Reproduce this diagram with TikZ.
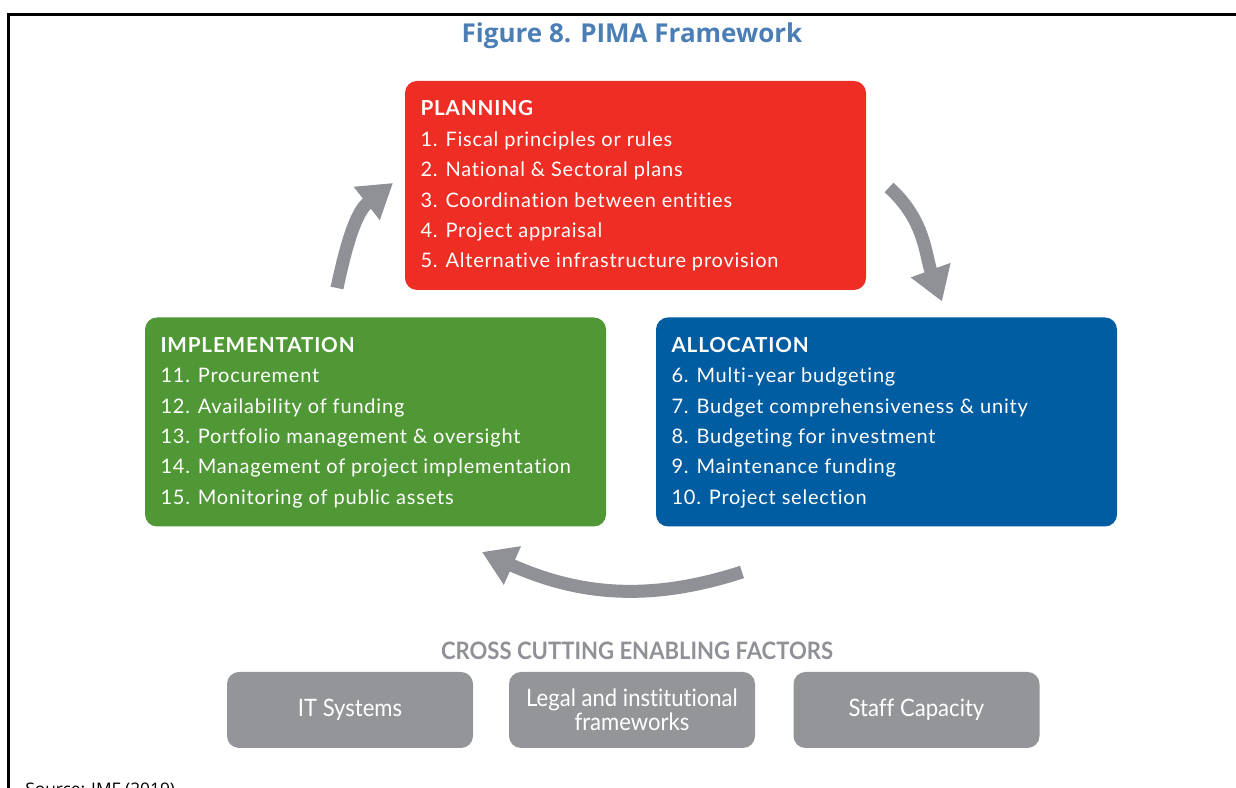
\documentclass[tikz,border=0pt]{standalone}
\usepackage{fontspec}
\setmainfont[LetterSpace=4, Ligatures={NoCommon}]{Lato}
\newfontfamily\headfont{Open Sans}
\newfontfamily\narrowfont[FakeStretch=0.92, Ligatures={NoCommon}]{Lato}
\usetikzlibrary{positioning}
\usetikzlibrary{calc}
\usetikzlibrary{arrows.meta}

\definecolor{planred}{RGB}{238,45,36}
\definecolor{allocblue}{RGB}{0,93,162}
\definecolor{implgreen}{RGB}{80,152,54}
\definecolor{factorgray}{RGB}{147,149,152}
\definecolor{cyclegray}{RGB}{143,145,150}
\definecolor{titleblue}{RGB}{74,126,181}

\tikzset{
    stage/.style={rounded corners=9pt, minimum width=345.75pt, minimum height=156.75pt, inner sep=0pt},
    stagehead/.style={anchor=base west, inner sep=0pt, text=white, font=\fontsize{15.5}{17}\selectfont\bfseries},
    stageitem/.style={anchor=base west, inner sep=0pt, text=white, font=\fontsize{15}{17}\selectfont},
    factor/.style={fill=factorgray, rounded corners=9pt, minimum width=184.5pt, minimum height=57pt, inner sep=0pt,
        text=white, align=center, font=\narrowfont\fontsize{18}{18}\selectfont},
    cycle/.style={draw=cyclegray, line width=9.75pt, -{Triangle[length=25pt,width=30pt]}}
}

\begin{document}
\begin{tikzpicture}[x=0.75pt, y=0.75pt]
    \useasboundingbox (0,0) rectangle (1236,788);
    \draw[line width=2.25pt] (8.5,0) -- (8.5,773.5) -- (1240,773.5);
    \node[anchor=base, inner sep=0pt, text=titleblue, font=\headfont\fontsize{19.5}{21}\selectfont\bfseries] (title) at (632,745) {Figure 8. PIMA Framework};

    % the three stages
    \node[stage, fill=planred] (plan) at (635.5,602.5) {};
    \node[stage, fill=allocblue] (alloc) at (886.5,366) {};
    \node[stage, fill=implgreen] (impl) at (375.5,366) {};

    \node[stagehead] (plan-h) at ($(plan.north west)+(15.5,-35)$) {PLANNING};
    \foreach \t [count=\i] in {1. Fiscal principles or rules, 2. National \& Sectoral plans,
        3. Coordination between entities, 4. Project appraisal, 5. Alternative infrastructure provision}
        \node[stageitem] (plan-\i) at ($(plan.north west)+(15.5,-65.5-\i*30.4+30.4)$) {\t};

    \node[stagehead] (alloc-h) at ($(alloc.north west)+(15.5,-35)$) {ALLOCATION};
    \foreach \t [count=\i] in {6. Multi-year budgeting, 7. Budget comprehensiveness \& unity,
        8. Budgeting for investment, 9. Maintenance funding, 10. Project selection}
        \node[stageitem] (alloc-\i) at ($(alloc.north west)+(15.5,-65.5-\i*30.4+30.4)$) {\t};

    \node[stagehead] (impl-h) at ($(impl.north west)+(15.5,-35)$) {IMPLEMENTATION};
    \foreach \t [count=\i] in {11. Procurement, 12. Availability of funding,
        13. Portfolio management \& oversight, 14. Management of project implementation,
        15. Monitoring of public assets}
        \node[stageitem] (impl-\i) at ($(impl.north west)+(15.5,-65.5-\i*30.4+30.4)$) {\t};

    % cycle arrows
    \coordinate (up-s) at (337,500);
    \coordinate (up-e) at (393,605);
    \coordinate (down-s) at (889,600.5);
    \coordinate (down-e) at (942,486.5);
    \coordinate (back-s) at (742,216);
    \coordinate (back-e) at (482,236);
    \draw[cycle] (up-s) to[out=78, in=218] (up-e);
    \draw[cycle] (down-s) to[out=-42, in=110] (down-e);
    \draw[cycle] (back-s) to[out=198, in=-24] (back-e);

    % enabling factors
    \node[anchor=base, inner sep=0pt, text=cyclegray, font=\narrowfont\fontsize{18}{18}\selectfont\bfseries] (factors) at (637,128) {CROSS CUTTING ENABLING FACTORS};
    \node[factor] (it) at (350,78) {IT Systems};
    \node[factor] (legal) at (632,78) {Legal and institutional\\frameworks};
    \node[factor] (staff) at (916.5,78) {Staff Capacity};

    \node[anchor=base west, inner sep=0pt, font=\headfont\fontsize{13}{15}\selectfont] (source) at (25,-8) {Source: IMF (2019)};
\end{tikzpicture}
\end{document}
